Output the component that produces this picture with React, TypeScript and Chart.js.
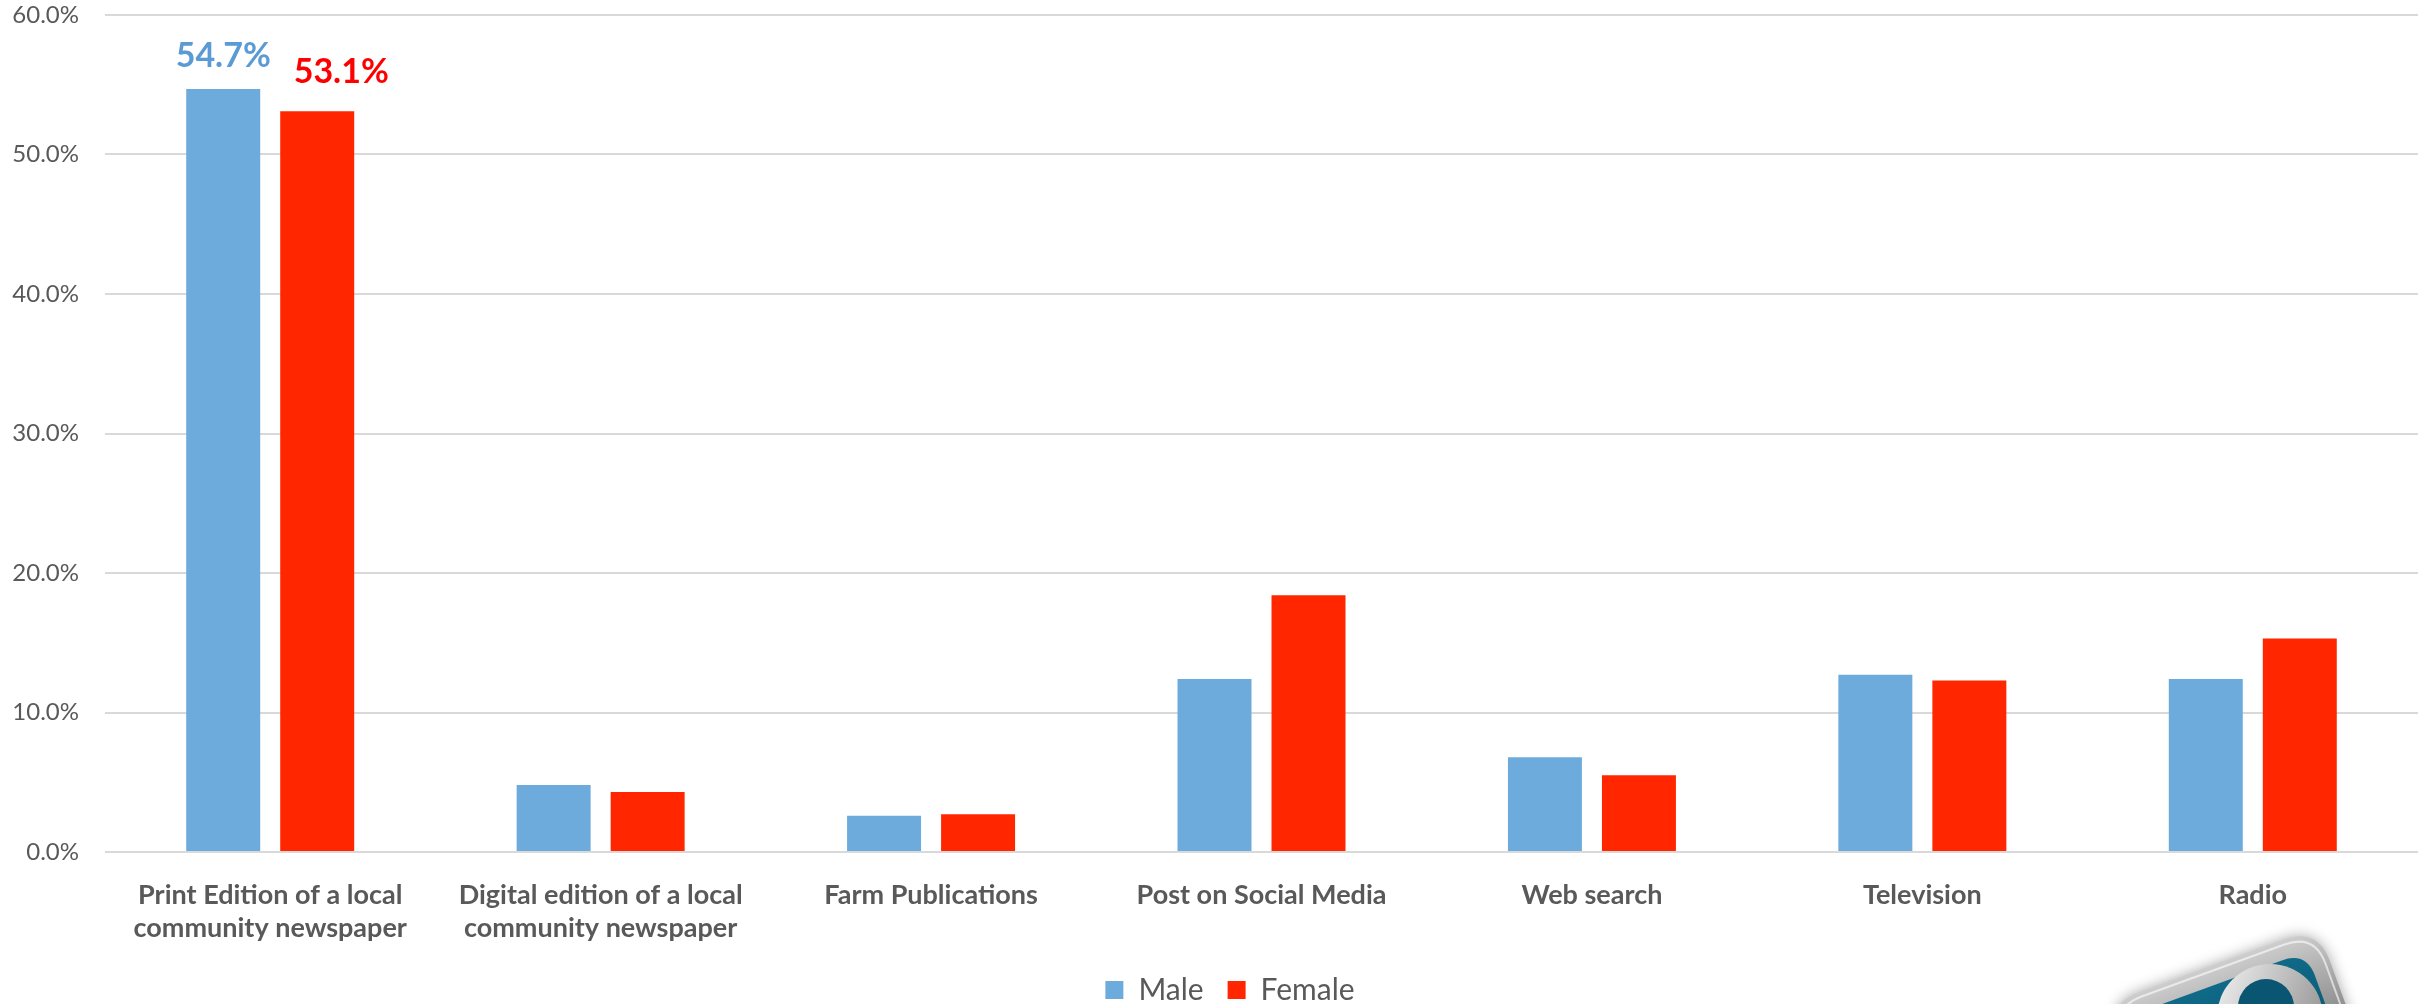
import React, { useEffect, useRef } from "react";
import { Chart, registerables } from "chart.js";

Chart.register(...registerables);

const categories: (string | string[])[] = [
  ["Print Edition of a local", "community newspaper"],
  ["Digital edition of a local", "community newspaper"],
  "Farm Publications",
  "Post on Social Media",
  "Web search",
  "Television",
  "Radio",
];
const maleValues = [54.7, 4.8, 2.6, 12.4, 6.8, 12.7, 12.4];
const femaleValues = [53.1, 4.3, 2.7, 18.4, 5.5, 12.3, 15.3];
const yTicks = [0, 10, 20, 30, 40, 50, 60];
const labelledIndex = 0;

const W = 2427;
const H = 1015;

function roundRectPath(ctx: CanvasRenderingContext2D, x: number, y: number, w: number, h: number, r: number) {
  ctx.beginPath();
  ctx.moveTo(x + r, y);
  ctx.lineTo(x + w - r, y);
  ctx.quadraticCurveTo(x + w, y, x + w, y + r);
  ctx.lineTo(x + w, y + h - r);
  ctx.quadraticCurveTo(x + w, y + h, x + w - r, y + h);
  ctx.lineTo(x + r, y + h);
  ctx.quadraticCurveTo(x, y + h, x, y + h - r);
  ctx.lineTo(x, y + r);
  ctx.quadraticCurveTo(x, y, x + r, y);
  ctx.closePath();
}

const valueLabelPlugin = {
  id: "valueLabels",
  afterDatasetsDraw(chart: any) {
    const ctx = chart.ctx as CanvasRenderingContext2D;
    const colors = ["#5B9BD5", "#FF0000"];
    const gaps = [22, 28];
    const shifts = [0, 24];
    ctx.save();
    ctx.font = "bold 34px Lato";
    ctx.textAlign = "center";
    ctx.textBaseline = "alphabetic";
    chart.data.datasets.forEach((ds: any, di: number) => {
      const meta = chart.getDatasetMeta(di);
      const bar = meta.data[labelledIndex];
      if (!bar) return;
      ctx.fillStyle = colors[di];
      ctx.fillText(Number(ds.data[labelledIndex]).toFixed(1) + "%", bar.x + shifts[di], bar.y - gaps[di]);
    });
    ctx.restore();
  },
};

const legendShiftPlugin = {
  id: "legendShift",
  afterLayout(chart: any) {
    const lg = chart.legend;
    if (lg) {
      lg.left += 42;
      lg.right += 0;
    }
  },
};

const logoPlugin = {
  id: "logo",
  afterDraw(chart: any) {
    const ctx = chart.ctx as CanvasRenderingContext2D;
    ctx.save();
    ctx.translate(2250, 1072);
    ctx.rotate((-20 * Math.PI) / 180);
    ctx.shadowColor = "rgba(0,0,0,0.35)";
    ctx.shadowBlur = 14;
    const g1 = ctx.createLinearGradient(0, -115, 0, 115);
    g1.addColorStop(0, "#cfcfcf");
    g1.addColorStop(0.4, "#8a8a8a");
    g1.addColorStop(1, "#4a4a4a");
    roundRectPath(ctx, -113, -113, 226, 226, 36);
    ctx.fillStyle = g1;
    ctx.fill();
    ctx.shadowBlur = 0;
    ctx.strokeStyle = "rgba(255,255,255,0.6)";
    ctx.lineWidth = 2;
    roundRectPath(ctx, -108, -108, 216, 216, 32);
    ctx.stroke();
    const g2 = ctx.createLinearGradient(0, -95, 0, 95);
    g2.addColorStop(0, "#0f6a88");
    g2.addColorStop(1, "#04435a");
    roundRectPath(ctx, -94, -94, 188, 188, 26);
    ctx.fillStyle = g2;
    ctx.fill();
    ctx.restore();
    ctx.save();
    const g3 = ctx.createLinearGradient(2217, 964, 2323, 1010);
    g3.addColorStop(0, "#f2f2f2");
    g3.addColorStop(1, "#9a9a9a");
    ctx.beginPath();
    ctx.arc(2270, 1017, 53, 0, Math.PI * 2);
    ctx.fillStyle = g3;
    ctx.fill();
    ctx.beginPath();
    ctx.arc(2266, 1007, 28, 0, Math.PI * 2);
    ctx.fillStyle = "#0a5572";
    ctx.fill();
    ctx.restore();
  },
};

export default function App() {
  const ref = useRef<HTMLCanvasElement | null>(null);

  useEffect(() => {
    if (!ref.current) return;
    const chart = new Chart(ref.current, {
      type: "bar",
      data: {
        labels: categories,
        datasets: [
          {
            label: "Male",
            data: maleValues,
            backgroundColor: "#6CABDC",
            categoryPercentage: 0.569,
            barPercentage: 0.787,
          },
          {
            label: "Female",
            data: femaleValues,
            backgroundColor: "#FF2600",
            categoryPercentage: 0.569,
            barPercentage: 0.787,
          },
        ],
      },
      options: {
        responsive: false,
        animation: false,
        devicePixelRatio: 1,
        layout: { padding: { top: 15, right: 9, left: 0, bottom: 0 } },
        plugins: {
          tooltip: { enabled: false },
          legend: {
            position: "bottom",
            labels: {
              boxWidth: 18,
              boxHeight: 18,
              padding: 24,
              color: "#595959",
              font: { family: "Lato", size: 30 },
            },
          },
        },
        scales: {
          x: {
            grid: { display: false },
            border: { display: false },
            ticks: {
              color: "#595959",
              padding: 19,
              maxRotation: 0,
              autoSkip: false,
              font: { family: "Lato", size: 27, weight: "bold", lineHeight: 1.22 },
            },
            afterFit: (s: any) => {
              s.height = 99;
            },
          },
          y: {
            min: 0,
            max: 60,
            border: { display: false },
            grid: { color: "#D9D9D9", lineWidth: 2, drawTicks: false },
            afterBuildTicks: (s: any) => {
              s.ticks = yTicks.map((v) => ({ value: v }));
            },
            afterFit: (s: any) => {
              s.width = 105;
              s.paddingTop = 0;
              s.paddingBottom = 0;
            },
            ticks: {
              color: "#595959",
              padding: 26,
              font: { family: "Lato", size: 24 },
              callback: (v: any) => Number(v).toFixed(1) + "%",
            },
          },
        },
      },
      plugins: [valueLabelPlugin, legendShiftPlugin, logoPlugin],
    });
    return () => chart.destroy();
  }, []);

  return (
    <div style={{ position: "absolute", left: 0, top: 0, width: W, height: 1004, overflow: "hidden", background: "#fff" }}>
      <canvas ref={ref} width={W} height={H} style={{ width: W, height: H, display: "block" }} />
    </div>
  );
}
